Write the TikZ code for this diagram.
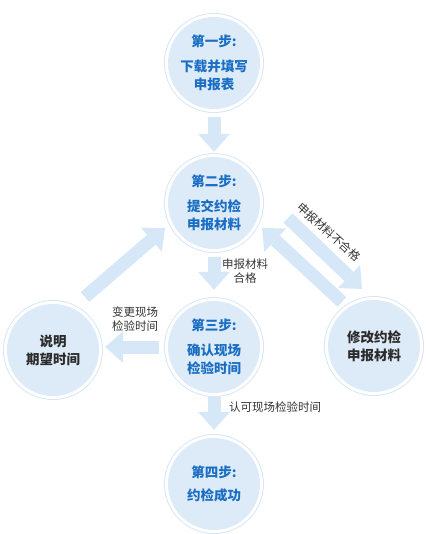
\documentclass[tikz,border=0pt]{standalone}
\usepackage{fontspec}
\setmainfont{Noto Sans CJK SC}
\usetikzlibrary{arrows.meta,calc}
\definecolor{fillc}{HTML}{DDEBF8}
\definecolor{ringc}{HTML}{D8E7F5}
\definecolor{arrc}{HTML}{D6E8F7}
\definecolor{bluet}{HTML}{1A6EC3}
\definecolor{darkt}{HTML}{2B2B2B}
\definecolor{labt}{HTML}{333333}
\tikzset{
  stepc/.style={circle, minimum size=100pt, inner sep=0pt, fill=ringc, align=center,
    font=\fontsize{13.5}{18}\selectfont\bfseries,
    path picture={\fill[white] (path picture bounding box.center) circle (49pt);
                  \fill[fillc] (path picture bounding box.center) circle (46pt);}},
  bluestep/.style={stepc, text=bluet},
  darkstep/.style={stepc, text=darkt},
  blk/.style={draw=arrc, line width=13pt, -{Triangle[width=32pt,length=18pt,line width=0pt]}},
  lab/.style={text=labt, font=\fontsize{11.5}{14}\selectfont, align=center, inner sep=0pt}
}
\begin{document}
\begin{tikzpicture}[x=1pt,y=-1pt]
\useasboundingbox (0,0) rectangle (425,534);
\node[bluestep] (c1) at (214,63) {第一步:\\[7pt]下载并填写\\申报表};
\node[bluestep] (c2) at (214,203) {第二步:\\[7pt]提交约检\\申报材料};
\node[bluestep] (c3) at (214,347) {第三步:\\[7pt]确认现场\\检验时间};
\node[bluestep] (c4) at (214,484) {第四步:\\[5pt]约检成功};
\node[darkstep] (cl) at (53,350) {说明\\期望时间};
\node[darkstep] (cr) at (374,346) {修改约检\\申报材料};
\coordinate (ld1) at (85,297);
\coordinate (ld2) at (165,228);
\coordinate (ru1) at (288,218);
\coordinate (ru2) at (362,289);
\coordinate (rl1) at (342,302);
\coordinate (rl2) at (262,228);
\draw[blk, shorten <=4pt, shorten >=1pt] (c1.south) -- (c2.north);
\draw[blk, shorten <=4pt, shorten >=7pt] (c2.south) -- (c3.north);
\draw[blk, shorten <=0pt, shorten >=4pt] (c3.south) -- (c4.north);
\draw[blk, shorten <=5pt, shorten >=2pt] (c3.west) -- (c3.west -| cl.east);
\draw[blk] (ld1) -- (ld2);
\draw[blk] (ru1) -- (ru2);
\draw[blk] (rl1) -- (rl2);
\node[lab] (t1) at (245,271) {申报材料\\合格};
\node[lab] (t2) at (135,319) {变更现场\\检验时间};
\node[lab] (t3) at (275,407) {认可现场检验时间};
\node[lab, rotate=-42] (t4) at (329,232) {申报材料不合格};
\end{tikzpicture}
\end{document}
